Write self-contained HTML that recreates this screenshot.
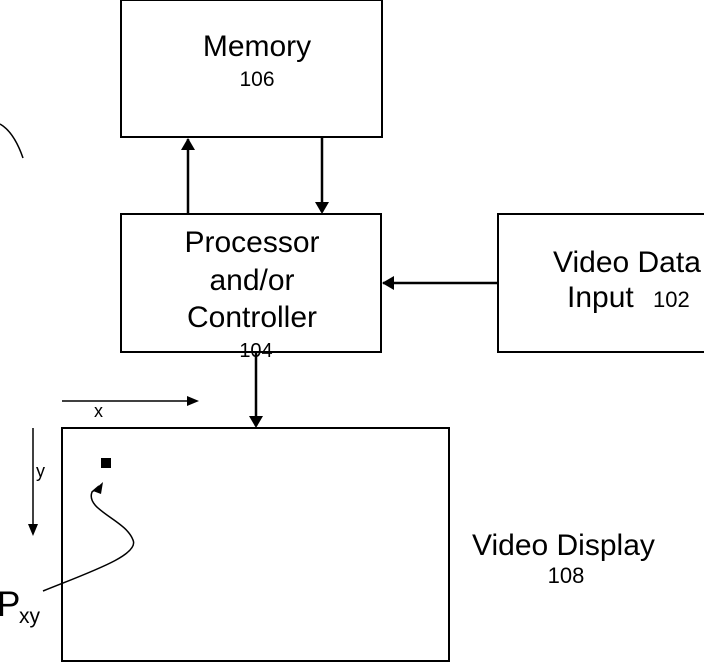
<!DOCTYPE html>
<html><head><style>
body{margin:0;background:#fff;}
svg text{font-family:"Liberation Sans",Arial,sans-serif;fill:#000;}
</style></head><body>
<svg width="704" height="665" viewBox="0 0 704 665" xmlns="http://www.w3.org/2000/svg">
<g fill="none" stroke="#000" stroke-width="2">
<rect x="121" y="0" width="261" height="137"/>
<rect x="121" y="214" width="260" height="138"/>
<rect x="498" y="214" width="210" height="138"/>
<rect x="62" y="428" width="387" height="233"/>
</g>
<g stroke="#000" stroke-width="2.5" fill="none">
<path d="M188 214 V139" />
<path d="M322 137 V212"/>
<path d="M498 283 H383"/>
<path d="M256 352 V426"/>
</g>
<g fill="#000">
<path d="M181 150 L188 138 L195 150z"/>
<path d="M315 202 L322 214 L329 202z"/>
<path d="M394 276 L382 283 L394 290z"/>
<path d="M249 416 L256 428 L263 416z"/>
<path d="M187 396 L199 401 L187 406z"/>
<path d="M28 524 L33 536 L38 524z"/>
<rect x="101" y="458" width="10" height="10"/>
<path d="M93 491 L103 482 L101 494z"/>
</g>
<path d="M0 124 Q14 132 23 158" fill="none" stroke="#000" stroke-width="1.5"/>
<g stroke="#000" stroke-width="1.5" fill="none">
<path d="M62 401 H190"/>
<path d="M33 428 V528"/>
<path d="M43 591 C90 572 140 555 133 540 C126 520 85 510 92 492 L99 486"/>
</g>
<text x="257" y="56" font-size="30" text-anchor="middle">Memory</text>
<text x="257" y="86" font-size="21" text-anchor="middle">106</text>
<text x="252" y="252" font-size="30" text-anchor="middle">Processor</text>
<text x="252" y="290" font-size="30" text-anchor="middle">and/or</text>
<text x="252" y="327" font-size="30" text-anchor="middle">Controller</text>
<text x="256" y="357" font-size="20" text-anchor="middle">104</text>
<text x="553" y="272" font-size="30">Video Data</text>
<text x="567" y="307" font-size="30">Input</text>
<text x="653" y="307" font-size="22">102</text>
<text x="472" y="555" font-size="30">Video Display</text>
<text x="566" y="583" font-size="22" text-anchor="middle">108</text>
<text x="94" y="417" font-size="18">x</text>
<text x="36" y="477" font-size="18">y</text>
<text x="-3" y="616" font-size="35">P</text>
<text x="19" y="623" font-size="21">xy</text>
</svg>
</body></html>
